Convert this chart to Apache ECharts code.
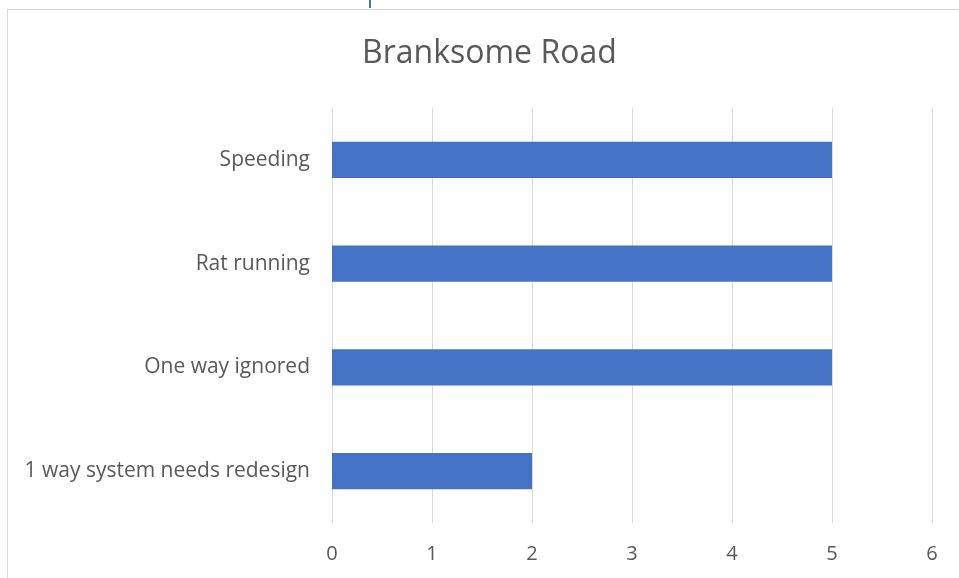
<!DOCTYPE html>
<html><head><meta charset="utf-8">
<script src="https://cdn.jsdelivr.net/npm/echarts@6/dist/echarts.min.js"></script>
<style>html,body{margin:0;padding:0;background:#fff}#c{width:959px;height:578px}</style>
</head><body><div id="c"></div>
<script>
var categories = ['Speeding', 'Rat running', 'One way ignored', '1 way system needs redesign'];
var values = [5, 5, 5, 2];
var title = 'Branksome Road';

var chart = echarts.init(document.getElementById('c'), null, {renderer: 'canvas'});
chart.setOption({
  animation: false,
  backgroundColor: '#fff',
  title: {text: title, left: 362, top: 38, padding: 0,
    textStyle: {fontFamily: 'Open Sans', fontSize: 32, fontWeight: 'normal', color: '#595959'}},
  graphic: [
    {type: 'rect', shape: {x: 7.5, y: 9.5, width: 1000, height: 1000}, style: {fill: 'none', stroke: '#d9d9d9', lineWidth: 1}, z: -1},
    {type: 'rect', shape: {x: 369, y: 0, width: 2, height: 8}, style: {fill: '#4472c4'}}
  ],
  grid: {left: 332, right: 27, top: 108, bottom: 55, containLabel: false},
  xAxis: {type: 'value', min: 0, max: 6, interval: 1,
    axisLine: {show: false}, axisTick: {show: false},
    axisLabel: {margin: 21, color: '#595959', fontFamily: 'Open Sans', fontSize: 20},
    splitLine: {lineStyle: {color: '#d9d9d9', width: 1}}},
  yAxis: {type: 'category', data: categories, inverse: true,
    axisLine: {show: false}, axisTick: {show: false},
    axisLabel: {margin: 22, color: '#595959', fontFamily: 'Open Sans', fontSize: 21}},
  series: [{type: 'bar', data: values, barWidth: '35%', itemStyle: {color: '#4472c4'}}]
});
</script></body></html>
